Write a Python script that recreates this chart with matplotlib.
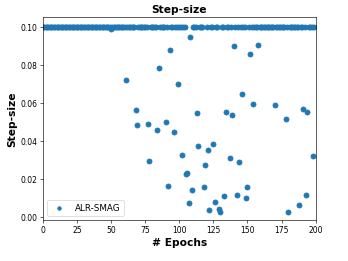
import numpy as np
import matplotlib
matplotlib.use("Agg")
import matplotlib.pyplot as plt

# step-size per epoch: constant base value, with the epochs where it dropped
n_epochs = 200
base_step = 0.1
drop_epochs = [50, 61, 68, 69, 77, 78, 84, 85, 90, 92, 93, 96, 99, 102, 105,
               106, 107, 108, 109, 113, 114, 118, 119, 121, 122, 125, 126, 129,
               130, 133, 134, 137, 139, 140, 142, 144, 146, 149, 150, 152, 154,
               158, 170, 178, 180, 188, 191, 193, 194, 198]
drop_values = [0.099, 0.072, 0.0565, 0.0483, 0.049, 0.0297, 0.0461, 0.0784,
               0.0503, 0.0163, 0.088, 0.0449, 0.070, 0.0325, 0.0226, 0.0233,
               0.0072, 0.095, 0.014, 0.0549, 0.0374, 0.0156, 0.0274, 0.0355,
               0.0038, 0.0386, 0.0077, 0.0044, 0.0028, 0.0112, 0.0556, 0.0311,
               0.0539, 0.0902, 0.0114, 0.0289, 0.0649, 0.0102, 0.0158, 0.0862,
               0.0595, 0.0909, 0.0588, 0.0517, 0.0026, 0.0062, 0.057, 0.0117,
               0.0554, 0.0321]

epochs = np.arange(n_epochs)
steps = np.full(n_epochs, base_step)
steps[drop_epochs] = drop_values

fig, ax = plt.subplots(figsize=(6.4, 4.8))
fig.subplots_adjust(left=0.123, right=0.905, top=0.933, bottom=0.156)

ax.scatter(epochs, steps, s=45, color="#1f77b4", label="ALR-SMAG")
ax.set_xlim(0, 200)
ax.set_ylim(-0.0017, 0.1055)
ax.set_xticks(range(0, 201, 25))
ax.set_yticks(np.arange(0, 0.101, 0.02))
ax.yaxis.set_major_formatter(matplotlib.ticker.FormatStrFormatter("%.2f"))

ax.set_xlabel("# Epochs", fontsize=14, fontweight="bold")
ax.set_ylabel("Step-size", fontsize=14, fontweight="bold")
ax.set_title("Step-size", fontsize=14, fontweight="bold")
ax.legend(loc="lower left", fontsize=11.5, markerscale=0.7)

fig.savefig("out.png", dpi=54.5)
